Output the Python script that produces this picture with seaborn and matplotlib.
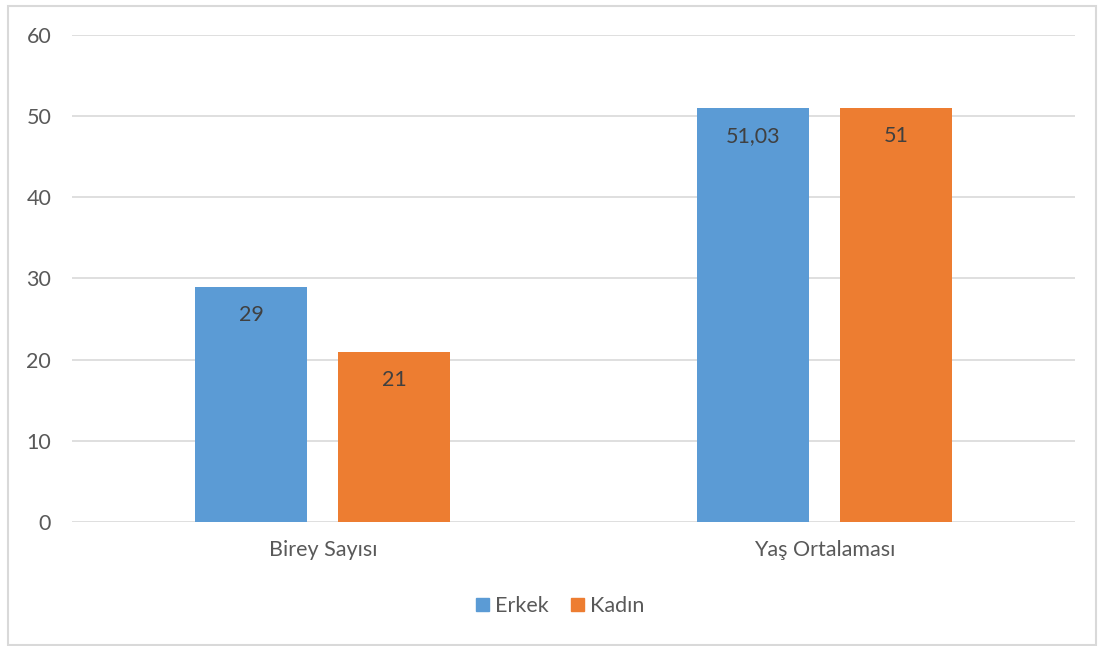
import numpy as np
import pandas as pd
import matplotlib
matplotlib.use('Agg')
import matplotlib.pyplot as plt
from matplotlib.patches import Rectangle
import seaborn as sns

categories = ['Birey Sayısı', 'Yaş Ortalaması']
groups = ['Erkek', 'Kadın']
erkek = [29, 51.03]
kadin = [21, 51]
palette = ['#5B9BD5', '#ED7D31']

df = pd.DataFrame({
    'kategori': categories * 2,
    'cinsiyet': [groups[0]] * 2 + [groups[1]] * 2,
    'deger': erkek + kadin,
})

sns.set_style('white')
plt.rcParams['font.family'] = ['Lato', 'DejaVu Sans']

fig = plt.figure(figsize=(11.05, 6.46), dpi=100)
ax = fig.add_axes([0.0652, 0.192, 0.9077, 0.7538])

sns.barplot(data=df, x='kategori', y='deger', hue='cinsiyet', palette=palette,
            width=0.57, gap=0.217, ax=ax, legend=False, saturation=1, linewidth=0)

ax.set_ylim(0, 60)
ax.set_yticks(range(0, 61, 10))
ax.yaxis.grid(True, color='#D9D9D9', linewidth=1.2)
ax.set_axisbelow(True)
for s in ax.spines.values():
    s.set_visible(False)
ax.set_xlabel('')
ax.set_ylabel('')
ax.tick_params(axis='both', length=0, labelsize=15.5, colors='#595959')
ax.tick_params(axis='y', pad=15)
ax.tick_params(axis='x', pad=13)

for container in ax.containers:
    for bar in container:
        h = bar.get_height()
        txt = f'{h:.2f}'.rstrip('0').rstrip('.').replace('.', ',')
        ax.annotate(txt, (bar.get_x() + bar.get_width() / 2, h),
                    xytext=(0, -28), textcoords='offset pixels',
                    ha='center', va='center', fontsize=15.5, color='#404040')

handles = [Rectangle((0, 0), 1, 1, color=c) for c in palette]
fig.legend(handles, groups, loc='center', bbox_to_anchor=(0.507, 0.062),
           ncol=2, frameon=False, fontsize=15.5, handlelength=0.6, handleheight=0.6,
           columnspacing=1.0, handletextpad=0.3, labelcolor='#595959')

fig.patches.append(Rectangle((8 / 1105, 1 / 646), 1096 / 1105 - 8 / 1105, 640 / 646 - 1 / 646,
                             transform=fig.transFigure, fill=False,
                             edgecolor='#D9D9D9', linewidth=1.5))

fig.savefig('out.png', dpi=100)
